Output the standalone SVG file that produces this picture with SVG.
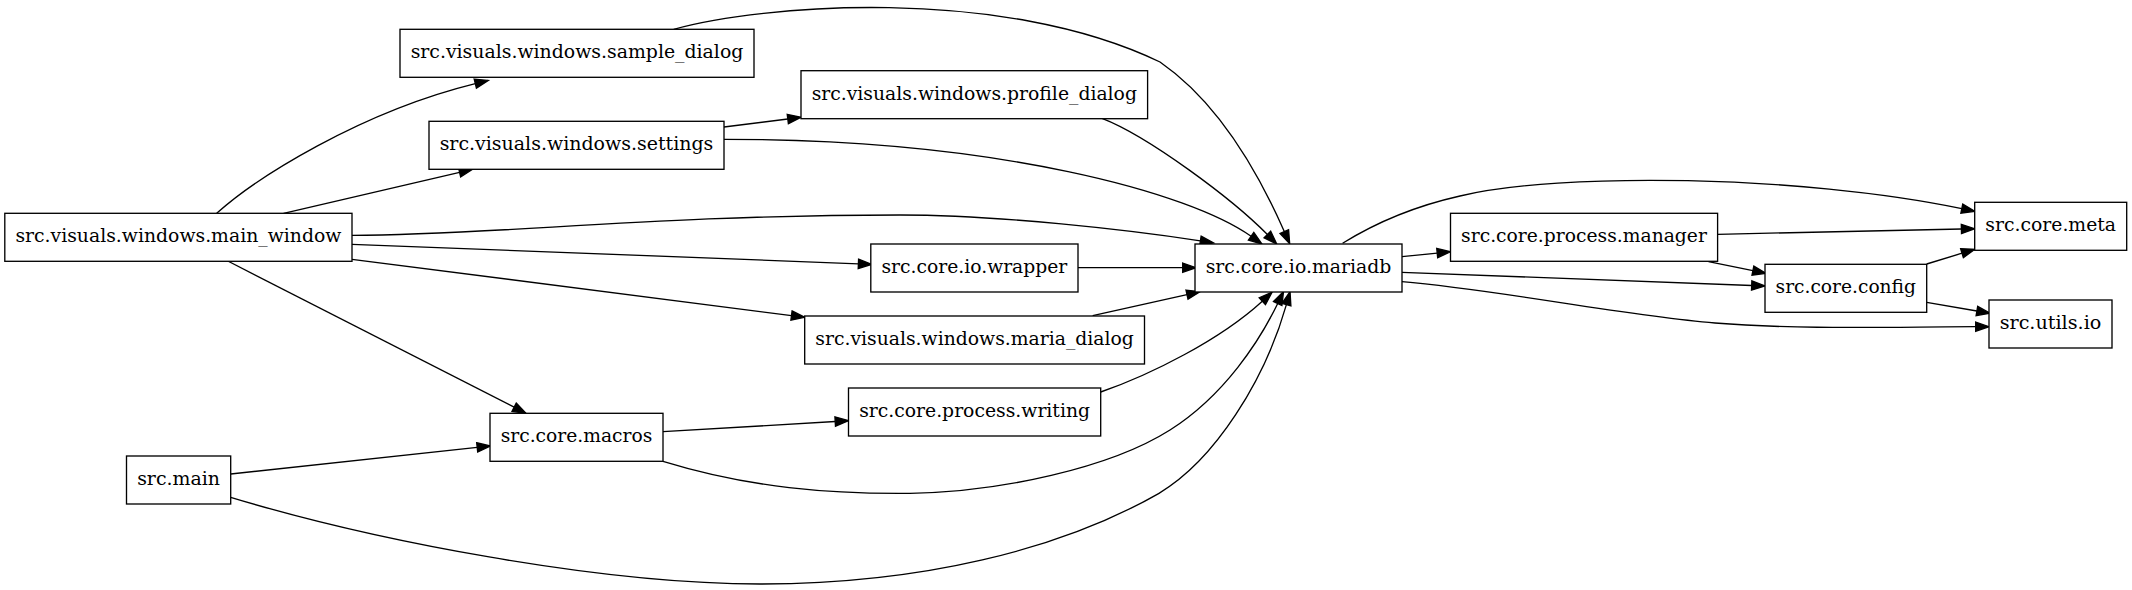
<svg xmlns="http://www.w3.org/2000/svg" width="2132" height="590" viewBox="0 0 2132 590">
<style>
.node rect{fill:#fff;stroke:#000;stroke-width:1.33}
.node text{font-family:"DejaVu Serif","Liberation Serif",serif;font-size:18.67px;text-anchor:middle;fill:#000}
.edge path{fill:none;stroke:#000;stroke-width:1.33;marker-end:url(#arrow)}
</style>
<defs>
<marker id="arrow" markerUnits="userSpaceOnUse" viewBox="0 -6 15 12" refX="0" refY="0" markerWidth="15" markerHeight="12" orient="auto" overflow="visible">
<path d="M0,-4.67 L13.33,0 L0,4.67 Z" fill="#000" stroke="#000" stroke-width="1.33"/>
</marker>
</defs>
<rect width="2132" height="590" fill="#fff"/>
<g id="edges" class="edge">
<path d="M216.7,213.3 C256,178 360,112 475.3,83.6"/>
<path d="M283.6,213.3 L459.6,172.3"/>
<path d="M724,127 L787.8,119"/>
<path d="M724,139.3 C1000,139.3 1190,193 1251.1,236.3"/>
<path d="M1102,118.3 C1148.5,136.3 1232.4,199 1267.4,234.5"/>
<path d="M673.7,29.3 C760,5 1000,-15 1160,62 C1215,100 1255,165 1284.3,231.5"/>
<path d="M352,235.3 C500,235 650,215 900,215 C1000,215 1130,230 1200.4,240.8"/>
<path d="M352,244.3 L858.4,263.8"/>
<path d="M1078,267.7 L1182.7,267.7"/>
<path d="M352,259.3 L791.5,315.6"/>
<path d="M1092.7,315.7 L1187,294.6"/>
<path d="M227.8,261 L514.1,407.2"/>
<path d="M230.7,474 L477.2,447.4"/>
<path d="M663,431.7 L835.2,421.5"/>
<path d="M663,461.3 C750,488 830,494 910,493.3 C1000,492 1110,468 1170,430 C1225,395 1260,340 1277.7,303.5"/>
<path d="M1100.7,392 C1150,375 1220,340 1262.3,301.2"/>
<path d="M230.7,497.3 C374,540.8 600,584 760,584 C920,584 1060,550 1159,493.3 C1215,460 1265,380 1286.4,304.6"/>
<path d="M1342.6,243.3 C1380,220 1420,205 1460,196 C1560,172 1800,175 1961.8,208.6"/>
<path d="M1402,256.7 L1437.2,253.1"/>
<path d="M1402,272.3 L1751.7,285.5"/>
<path d="M1402,281.7 C1500,290 1620,315 1715,323 C1800,330 1900,326.7 1975.7,326.7"/>
<path d="M1717.6,234.3 L1961.4,229"/>
<path d="M1708.5,261.7 L1752.9,270.7"/>
<path d="M1926.7,264 L1962,253.2"/>
<path d="M1926.7,302.3 L1976.9,311"/>
</g>
<g id="sample_dialog" class="node"><rect x="400" y="29.3" width="354" height="48"/><text x="577" y="58.3" textLength="332.7" lengthAdjust="spacingAndGlyphs">src.visuals.windows.sample_dialog</text></g>
<g id="settings" class="node"><rect x="429" y="121.3" width="295" height="48"/><text x="576.5" y="150.3" textLength="273.7" lengthAdjust="spacingAndGlyphs">src.visuals.windows.settings</text></g>
<g id="main_window" class="node"><rect x="4.8" y="213.3" width="347.2" height="48"/><text x="178.4" y="242.3" textLength="325.9" lengthAdjust="spacingAndGlyphs">src.visuals.windows.main_window</text></g>
<g id="macros" class="node"><rect x="490" y="413.3" width="173" height="48"/><text x="576.5" y="442.3" textLength="151.7" lengthAdjust="spacingAndGlyphs">src.core.macros</text></g>
<g id="main" class="node"><rect x="126.5" y="456" width="104.2" height="48"/><text x="178.6" y="485" textLength="82.9" lengthAdjust="spacingAndGlyphs">src.main</text></g>
<g id="profile_dialog" class="node"><rect x="801" y="70.7" width="346.6" height="48"/><text x="974.3" y="99.7" textLength="325.3" lengthAdjust="spacingAndGlyphs">src.visuals.windows.profile_dialog</text></g>
<g id="wrapper" class="node"><rect x="870.8" y="244" width="207.2" height="48"/><text x="974.4" y="273" textLength="185.9" lengthAdjust="spacingAndGlyphs">src.core.io.wrapper</text></g>
<g id="mariadb" class="node"><rect x="1195" y="244" width="207" height="48"/><text x="1298.5" y="273" textLength="185.7" lengthAdjust="spacingAndGlyphs">src.core.io.mariadb</text></g>
<g id="maria_dialog" class="node"><rect x="804.7" y="316" width="339.8" height="48"/><text x="974.6" y="345" textLength="318.5" lengthAdjust="spacingAndGlyphs">src.visuals.windows.maria_dialog</text></g>
<g id="writing" class="node"><rect x="848.5" y="388" width="252.2" height="48"/><text x="974.6" y="417" textLength="230.9" lengthAdjust="spacingAndGlyphs">src.core.process.writing</text></g>
<g id="manager" class="node"><rect x="1450.5" y="213.3" width="267.1" height="48"/><text x="1584" y="242.3" textLength="245.8" lengthAdjust="spacingAndGlyphs">src.core.process.manager</text></g>
<g id="meta" class="node"><rect x="1974.7" y="202.3" width="152" height="48"/><text x="2050.7" y="231.3" textLength="130.7" lengthAdjust="spacingAndGlyphs">src.core.meta</text></g>
<g id="config" class="node"><rect x="1765" y="264.3" width="161.7" height="48"/><text x="1845.8" y="293.3" textLength="140.4" lengthAdjust="spacingAndGlyphs">src.core.config</text></g>
<g id="utils_io" class="node"><rect x="1989" y="300" width="123" height="48"/><text x="2050.5" y="329" textLength="101.7" lengthAdjust="spacingAndGlyphs">src.utils.io</text></g>
</svg>
